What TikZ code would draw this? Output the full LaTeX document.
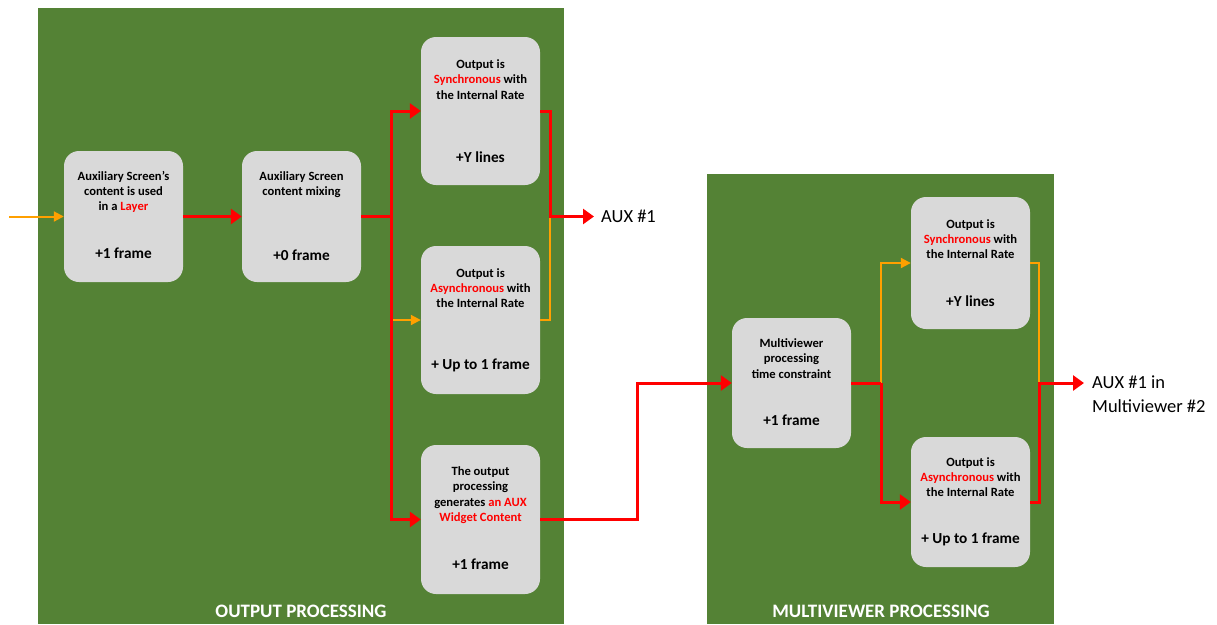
\documentclass[tikz,border=0pt]{standalone}
\usepackage{fontspec}
\setmainfont{Carlito}
\usetikzlibrary{arrows.meta}

\definecolor{panelgreen}{RGB}{84,130,53}
\definecolor{boxgray}{RGB}{217,217,217}
\definecolor{flowred}{RGB}{255,0,0}
\definecolor{floworange}{RGB}{255,160,0}

\tikzset{
  panel/.style={fill=panelgreen, draw=none, inner sep=0pt},
  panellabel/.style={text=white, font=\bfseries\fontsize{19}{23}\selectfont, inner sep=0pt},
  blk/.style={fill=boxgray, draw=none, rounded corners=15pt, minimum width=119pt, inner sep=0pt},
  blktext/.style={align=center, font=\bfseries\fontsize{12.6}{15.3}\selectfont, inner sep=0pt},
  blkdelay/.style={font=\bfseries\fontsize{15.3}{18}\selectfont, inner sep=0pt},
  redflow/.style={draw=flowred, line width=3pt},
  orangeflow/.style={draw=floworange, line width=2pt},
  redtip/.style={-{Triangle[length=11pt,width=15pt]}},
  orangetip/.style={-{Triangle[length=10pt,width=10pt]}},
  outlabel/.style={font=\fontsize{18.5}{23.5}\selectfont, align=left, inner sep=0pt, anchor=west}
}

\begin{document}
\begin{tikzpicture}[x=1pt,y=-1pt]
\useasboundingbox (0,0) rectangle (1217,624);

% processing panels
\node[panel, minimum width=526pt, minimum height=616pt] (pnlout) at (301,316) {};
\node[panel, minimum width=347pt, minimum height=450pt] (pnlmv) at (880.5,399) {};
\node[panellabel] (lblout) at (301,611) {OUTPUT PROCESSING};
\node[panellabel] (lblmv) at (881,611) {MULTIVIEWER PROCESSING};

% output processing stages
\node[blk, minimum height=131pt] (layer) at (123.5,216.5) {};
\node[blktext] (layert) at (123.5,192) {Auxiliary Screen’s\\content is used\\in a \textcolor{flowred}{Layer}};
\node[blkdelay] (layerd) at (123.5,253) {+1 frame};

\node[blk, minimum height=131pt] (mix) at (301.5,216.5) {};
\node[blktext] (mixt) at (301.5,184.5) {Auxiliary Screen\\content mixing};
\node[blkdelay] (mixd) at (301.5,255) {+0 frame};

\node[blk, minimum height=148pt] (sync) at (480.5,111) {};
\node[blktext] (synct) at (480.5,79.5) {Output is\\\textcolor{flowred}{Synchronous} with\\the Internal Rate};
\node[blkdelay] (syncd) at (480.5,157) {+Y lines};

\node[blk, minimum height=148pt] (async) at (480.5,320) {};
\node[blktext] (asynct) at (480.5,288) {Output is\\\textcolor{flowred}{Asynchronous} with\\the Internal Rate};
\node[blkdelay] (asyncd) at (480.5,365) {+ Up to 1 frame};

\node[blk, minimum height=149pt] (widget) at (480.5,519.5) {};
\node[blktext] (widgett) at (480.5,495) {The output\\processing\\generates \textcolor{flowred}{an AUX}\\\textcolor{flowred}{Widget Content}};
\node[blkdelay] (widgetd) at (480.5,564) {+1 frame};

% multiviewer processing stages
\node[blk, minimum height=130pt] (mv) at (791.5,383) {};
\node[blktext] (mvt) at (791.5,358.5) {Multiviewer\\processing\\time constraint};
\node[blkdelay] (mvd) at (791.5,420) {+1 frame};

\node[blk, minimum height=132pt] (mvsync) at (970.5,263) {};
\node[blktext] (mvsynct) at (970.5,239) {Output is\\\textcolor{flowred}{Synchronous} with\\the Internal Rate};
\node[blkdelay] (mvsyncd) at (970.5,301) {+Y lines};

\node[blk, minimum height=130pt] (mvasync) at (970.5,502) {};
\node[blktext] (mvasynct) at (970.5,477) {Output is\\\textcolor{flowred}{Asynchronous} with\\the Internal Rate};
\node[blkdelay] (mvasyncd) at (970.5,539) {+ Up to 1 frame};

% routing points
\coordinate (src) at (9,216.5);
\coordinate (split1) at (391,216.5);
\coordinate (join1) at (550,216.5);
\coordinate (aux1) at (594,216.5);
\coordinate (bend) at (637,383);
\coordinate (split2) at (881,383);
\coordinate (join2) at (1039,383);
\coordinate (aux2) at (1084,383);

% output processing flow
\draw[orangeflow, orangetip] (src) -- (layer.west);
\draw[redflow, redtip] (layer.east) -- (mix.west);
\draw[redflow] (mix.east) -- (split1);
\draw[orangeflow, orangetip] ([xshift=1.5pt]split1 |- async.west) -- (async.west);
\draw[redflow, redtip] (split1) |- (sync.west);
\draw[redflow, redtip] (split1) |- (widget.west);
\draw[orangeflow] (async.east) -| (join1);
\draw[redflow, redtip] (sync.east) -| (join1) -- (aux1);
\node[outlabel] (aux1lbl) at (601,216.5) {AUX \#1};

% hand-over to the multiviewer
\draw[redflow, redtip] (widget.east) -| (bend) -- (mv.west);

% multiviewer flow
\draw[orangeflow, orangetip] (split2) |- (mvsync.west);
\draw[redflow] (mv.east) -- (split2);
\draw[redflow, redtip] (split2) |- (mvasync.west);
\draw[orangeflow] (mvsync.east) -| (join2);
\draw[redflow, redtip] (mvasync.east) -| (join2) -- (aux2);
\node[outlabel] (aux2lbl) at (1092,394) {AUX \#1 in\\Multiviewer \#2};
\end{tikzpicture}
\end{document}
